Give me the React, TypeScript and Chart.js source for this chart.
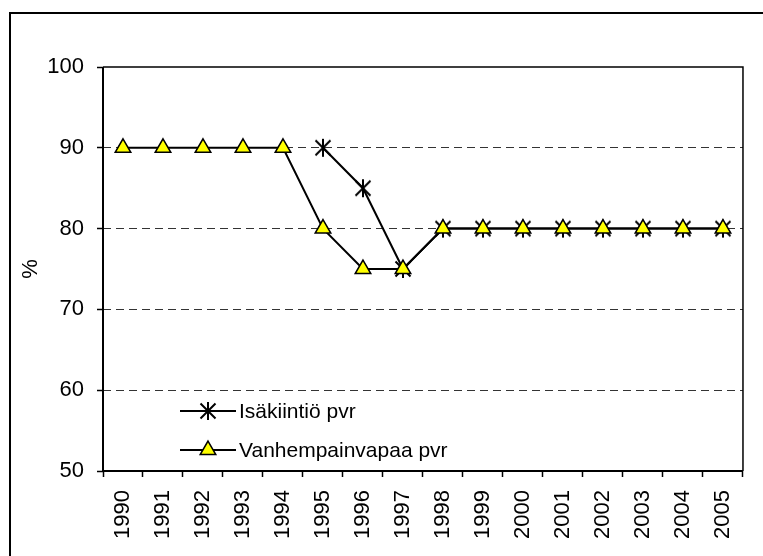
import React, { useEffect, useRef } from "react";
import { Chart, registerables } from "chart.js";

Chart.register(...registerables);

const years = ["1990", "1991", "1992", "1993", "1994", "1995", "1996", "1997", "1998", "1999", "2000", "2001", "2002", "2003", "2004", "2005"];
const isakiintio: (number | null)[] = [null, null, null, null, null, 90, 85, 75, 80, 80, 80, 80, 80, 80, 80, 80];
const vanhempainvapaa: number[] = [90, 90, 90, 90, 90, 80, 75, 75, 80, 80, 80, 80, 80, 80, 80, 80];
const seriesNames = ["Isäkiintiö pvr", "Vanhempainvapaa pvr"];
const yMin = 50;
const yMax = 100;
const yStep = 10;
const yTitle = "%";

const FONT = "'Liberation Sans', Arial, sans-serif";

function makeStar(): HTMLCanvasElement {
  const c = document.createElement("canvas");
  c.width = 20;
  c.height = 20;
  const g = c.getContext("2d")!;
  g.strokeStyle = "#000";
  g.lineWidth = 2;
  g.beginPath();
  g.moveTo(10, 1);
  g.lineTo(10, 19);
  g.moveTo(2.5, 2.5);
  g.lineTo(17.5, 17.5);
  g.moveTo(17.5, 2.5);
  g.lineTo(2.5, 17.5);
  g.stroke();
  return c;
}

function drawTriangle(ctx: CanvasRenderingContext2D, x: number, y: number, r: number) {
  ctx.beginPath();
  let rad = 0;
  ctx.moveTo(x + Math.sin(rad) * r, y - Math.cos(rad) * r);
  rad += (2 * Math.PI) / 3;
  ctx.lineTo(x + Math.sin(rad) * r, y - Math.cos(rad) * r);
  rad += (2 * Math.PI) / 3;
  ctx.lineTo(x + Math.sin(rad) * r, y - Math.cos(rad) * r);
  ctx.closePath();
  ctx.fillStyle = "#FFFF00";
  ctx.fill();
  ctx.strokeStyle = "#000";
  ctx.lineWidth = 1.5;
  ctx.stroke();
}

export default function App() {
  const ref = useRef<HTMLCanvasElement | null>(null);

  useEffect(() => {
    if (!ref.current) return;
    const star = makeStar();

    const framePlugin = {
      id: "frame",
      beforeDraw(chart: any) {
        const ctx = chart.ctx as CanvasRenderingContext2D;
        ctx.save();
        ctx.fillStyle = "#fff";
        ctx.fillRect(0, 0, chart.width, chart.height);
        ctx.restore();
      },
      afterDatasetsDraw(chart: any) {
        const ctx = chart.ctx as CanvasRenderingContext2D;
        const a = chart.chartArea;
        ctx.save();
        ctx.setLineDash([]);
        // outer border
        ctx.strokeStyle = "#000";
        ctx.lineWidth = 2;
        ctx.strokeRect(10, 13, chart.width + 20, chart.height + 20);
        // plot top and right border
        ctx.lineWidth = 1.5;
        ctx.beginPath();
        ctx.moveTo(a.left, a.top);
        ctx.lineTo(a.right, a.top);
        ctx.lineTo(a.right, a.bottom);
        ctx.stroke();
        // left and bottom axis lines
        ctx.lineWidth = 2;
        ctx.beginPath();
        ctx.moveTo(a.left, a.top);
        ctx.lineTo(a.left, a.bottom);
        ctx.lineTo(a.right, a.bottom);
        ctx.stroke();

        // legend
        const items = [
          { y: 411, kind: "star" },
          { y: 450, kind: "tri" },
        ];
        items.forEach((it, i) => {
          ctx.strokeStyle = "#000";
          ctx.lineWidth = 2;
          ctx.beginPath();
          ctx.moveTo(180, it.y);
          ctx.lineTo(236, it.y);
          ctx.stroke();
          if (it.kind === "star") {
            ctx.drawImage(star, 208 - 10, it.y - 10);
          } else {
            drawTriangle(ctx, 208, it.y, 9);
          }
          ctx.fillStyle = "#000";
          ctx.font = `21px ${FONT}`;
          ctx.textAlign = "left";
          ctx.textBaseline = "middle";
          ctx.fillText(seriesNames[i], 239, it.y + 1);
        });
        ctx.restore();
      },
    };

    const chart = new Chart(ref.current, {
      type: "line",
      data: {
        labels: years,
        datasets: [
          {
            label: seriesNames[0],
            data: isakiintio,
            borderColor: "#000",
            borderWidth: 2,
            pointStyle: star as any,
            pointRadius: 9,
            backgroundColor: "#000",
            spanGaps: false,
            order: 1,
          },
          {
            label: seriesNames[1],
            data: vanhempainvapaa,
            borderColor: "#000",
            borderWidth: 2,
            pointStyle: "triangle",
            pointRadius: 9,
            pointBackgroundColor: "#FFFF00",
            pointBorderColor: "#000",
            pointBorderWidth: 1.5,
            order: 0,
          },
        ],
      },
      options: {
        responsive: false,
        animation: false,
        layout: { padding: { top: 67, right: 20, left: 0, bottom: 0 } },
        plugins: {
          legend: { display: false },
          tooltip: { enabled: false },
        },
        scales: {
          x: {
            offset: true,
            grid: {
              offset: true,
              drawOnChartArea: false,
              drawTicks: true,
              tickLength: 6,
              tickColor: "#000",
              tickWidth: 1.5,
            },
            border: { display: false },
            ticks: {
              color: "#000",
              font: { family: FONT, size: 22 },
              minRotation: 90,
              maxRotation: 90,
              padding: 13,
              autoSkip: false,
            },
            afterFit(scale: any) {
              scale.height = 85;
            },
          },
          y: {
            min: yMin,
            max: yMax,
            ticks: {
              stepSize: yStep,
              color: "#000",
              font: { family: FONT, size: 22 },
              padding: 13,
            },
            grid: {
              color: (c: any) => (c.tick && (c.tick.value === yMin || c.tick.value === yMax) ? "rgba(0,0,0,0)" : "#333"),
              lineWidth: 1,
              drawTicks: true,
              tickLength: 6,
              tickColor: "#000",
              tickWidth: 1.5,
              tickBorderDash: [],
            },
            border: { display: false, dash: [8, 5] },
            title: {
              display: true,
              text: yTitle,
              color: "#000",
              font: { family: FONT, size: 22 },
              padding: { top: 18, bottom: 0 },
            },
            afterFit(scale: any) {
              scale.width = 103;
            },
          },
        },
      },
      plugins: [framePlugin],
    });

    return () => chart.destroy();
  }, []);

  return (
    <div style={{ position: "fixed", left: 0, top: 0, width: 763, height: 556, background: "#fff" }}>
      <canvas ref={ref} width={763} height={556} style={{ display: "block" }} />
    </div>
  );
}
